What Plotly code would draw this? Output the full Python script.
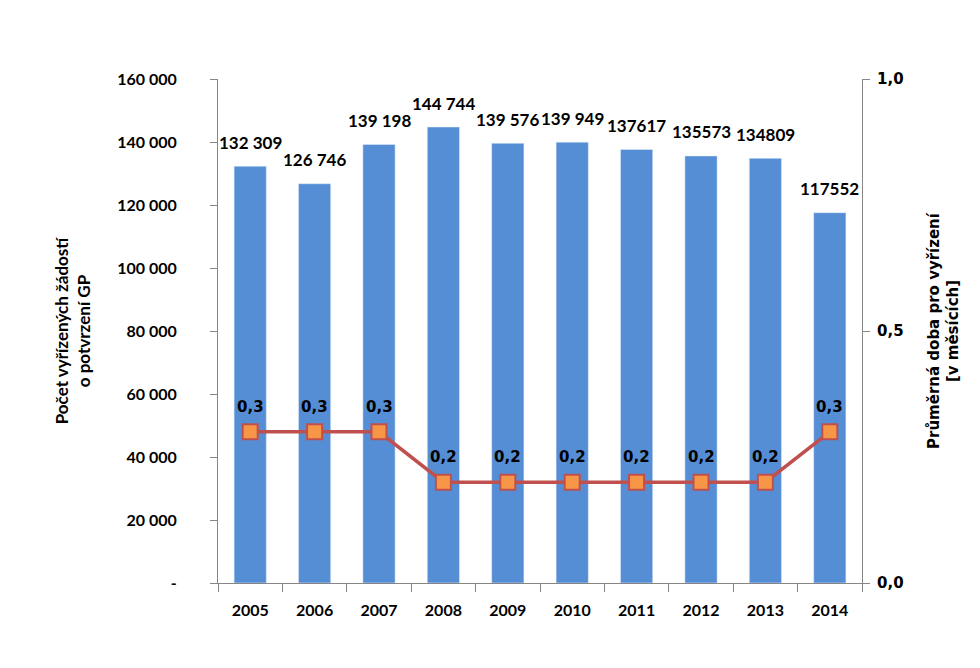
import plotly.graph_objects as go

years = ["2005", "2006", "2007", "2008", "2009", "2010", "2011", "2012", "2013", "2014"]
requests = [132309, 126746, 139198, 144744, 139576, 139949, 137617, 135573, 134809, 117552]
request_labels = ["132 309", "126 746", "139 198", "144 744", "139 576", "139 949",
                  "137617", "135573", "134809", "117552"]
duration = [0.3, 0.3, 0.3, 0.2, 0.2, 0.2, 0.2, 0.2, 0.2, 0.3]
duration_labels = ["0,3", "0,3", "0,3", "0,2", "0,2", "0,2", "0,2", "0,2", "0,2", "0,3"]

left_tickvals = [0, 20000, 40000, 60000, 80000, 100000, 120000, 140000, 160000]
left_ticktext = ["-", "20 000", "40 000", "60 000", "80 000", "100 000", "120 000", "140 000", "160 000"]
right_tickvals = [0, 0.5, 1.0]
right_ticktext = ["0,0", "0,5", "1,0"]

BAR = "#558ED5"
LINE = "#C0504D"
MARK = "#F79646"
AXIS = "#868686"
F1 = "Lato, Liberation Sans, sans-serif"
F2 = "DejaVu Sans, Verdana, sans-serif"

fig = go.Figure()
fig.add_trace(go.Bar(x=years, y=requests, marker_color=BAR, yaxis="y", showlegend=False,
                     hoverinfo="skip"))
fig.add_trace(go.Scatter(x=years, y=duration, yaxis="y2", mode="lines+markers",
                         line=dict(color=LINE, width=3.5),
                         marker=dict(symbol="square", size=15, color=MARK,
                                     line=dict(color=LINE, width=2)),
                         showlegend=False, hoverinfo="skip"))

annotations = []
for i, (v, t) in enumerate(zip(requests, request_labels)):
    annotations.append(dict(x=i, y=v, xref="x", yref="y", text=t, showarrow=False,
                            yanchor="middle", yshift=24,
                            font=dict(family=F1, size=17, color="black", weight="bold")))
for i, (v, t) in enumerate(zip(duration, duration_labels)):
    annotations.append(dict(x=i, y=v, xref="x", yref="y2", text=t, showarrow=False,
                            yanchor="middle", yshift=25,
                            font=dict(family=F2, size=15, color="black", weight="bold")))

fig.update_layout(
    width=980, height=668,
    margin=dict(l=210, r=126, t=71, b=93),
    plot_bgcolor="white", paper_bgcolor="white",
    bargap=0.5,
    xaxis=dict(type="category", range=[-0.5, len(years) - 0.5], autorange=False,
               showline=True, linecolor=AXIS, linewidth=1,
               ticks="outside", ticklen=8, tickcolor=AXIS, tickson="boundaries",
               showgrid=False, zeroline=False, tickangle=0, ticklabelstandoff=13,
               tickfont=dict(family=F1, size=16, color="black", weight="bold")),
    yaxis=dict(range=[0, 160000], autorange=False, tickvals=left_tickvals, ticktext=left_ticktext,
               showline=True, linecolor=AXIS, linewidth=1, ticks="outside", ticklen=7,
               tickcolor=AXIS, showgrid=False, zeroline=False,
               tickfont=dict(family=F1, size=16, color="black", weight="bold"),
               ticklabelstandoff=30,
               title=dict(text="Počet vyřízených žádostí<br>o potvrzení GP",
                          font=dict(family=F1, size=17, color="black", weight="bold"),
                          standoff=22)),
    yaxis2=dict(range=[0, 1.0], autorange=False, tickvals=right_tickvals, ticktext=right_ticktext,
                overlaying="y", side="right", showline=True, linecolor=AXIS, linewidth=1,
                ticks="outside", ticklen=7, tickcolor=AXIS, showgrid=False, zeroline=False,
                tickfont=dict(family=F2, size=15, color="black", weight="bold"),
                ticklabelstandoff=4,
                title=dict(text="Průměrná doba pro vyřízení<br>[v měsících]",
                           font=dict(family=F2, size=15, color="black", weight="bold"),
                           standoff=25)),
    annotations=annotations,
)

fig.write_html("out.html")
